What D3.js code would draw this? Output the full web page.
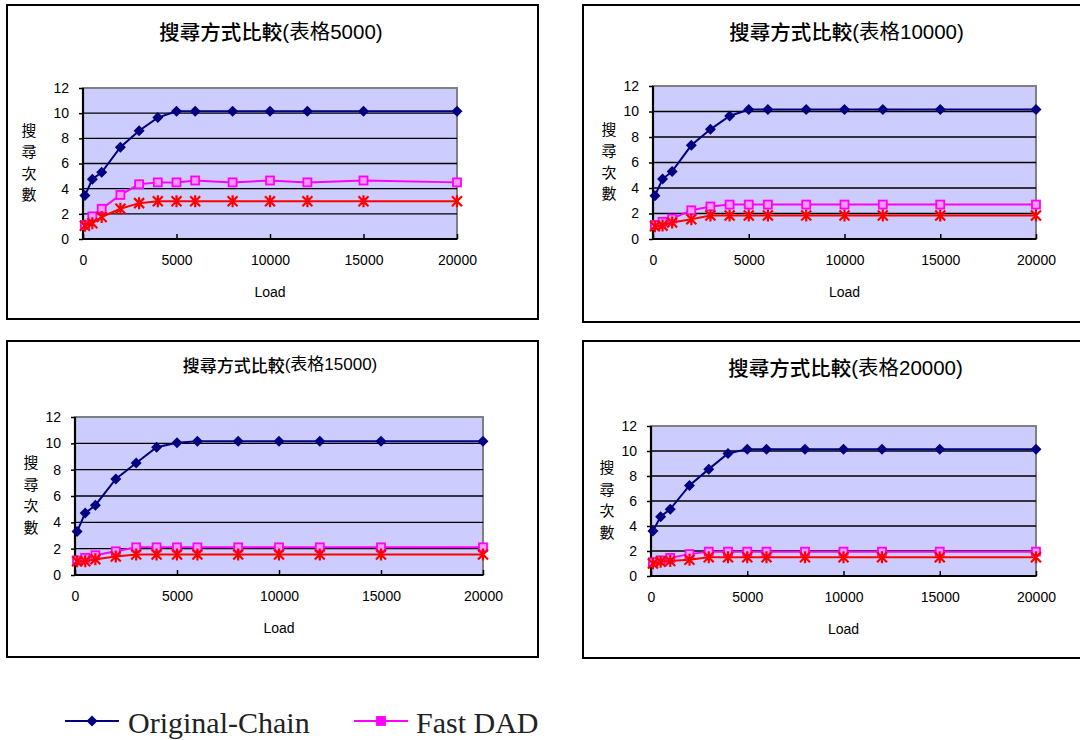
<!DOCTYPE html>
<html>
<head>
<meta charset="utf-8">
<script src="https://cdn.jsdelivr.net/npm/d3@7"></script>
<style>
  html, body { margin: 0; padding: 0; background: #ffffff; }
  svg { display: block; }
</style>
</head>
<body>
<svg id="chart" width="1080" height="740"></svg>
<script>
// ---------------- DATA ----------------
const loads = [100, 500, 1000, 2000, 3000, 4000, 5000, 6000, 8000, 10000, 12000, 15000, 20000];
const xTicks = [0, 5000, 10000, 15000, 20000];
const yTicks = [0, 2, 4, 6, 8, 10, 12];
const titlePrefix = "搜尋方式比較";
const titleSuffixes = ["(表格5000)", "(表格10000)", "(表格15000)", "(表格20000)"];
const yAxisChars = ["搜", "尋", "次", "數"];
const xAxisTitle = "Load";
const seriesNames = ["Original-Chain", "Fast DAD"];

const original5000  = [3.45, 4.75, 5.3, 7.3, 8.6, 9.65, 10.15, 10.15, 10.15, 10.15, 10.15, 10.15, 10.15];
const fastDad5000   = [1.1, 1.8, 2.4, 3.5, 4.35, 4.5, 4.5, 4.65, 4.5, 4.65, 4.5, 4.65, 4.5];
const third5000     = [1.05, 1.25, 1.75, 2.4, 2.85, 3.0, 3.0, 3.0, 3.0, 3.0, 3.0, 3.0, 3.0];

const original10000 = [3.4, 4.7, 5.3, 7.35, 8.6, 9.65, 10.15, 10.15, 10.15, 10.15, 10.15, 10.15, 10.15];
const fastDad10000  = [1.1, 1.35, 1.6, 2.25, 2.55, 2.7, 2.7, 2.7, 2.7, 2.7, 2.7, 2.7, 2.7];
const third10000    = [1.0, 1.05, 1.3, 1.55, 1.85, 1.85, 1.85, 1.85, 1.85, 1.85, 1.85, 1.85, 1.85];

const original15000 = [3.3, 4.7, 5.3, 7.3, 8.5, 9.7, 10.05, 10.15, 10.15, 10.15, 10.15, 10.15, 10.15];
const fastDad15000  = [1.1, 1.3, 1.5, 1.8, 2.1, 2.1, 2.1, 2.1, 2.1, 2.1, 2.1, 2.1, 2.1];
const third15000    = [1.05, 1.05, 1.2, 1.4, 1.55, 1.55, 1.55, 1.55, 1.55, 1.55, 1.55, 1.55, 1.55];

const original20000 = [3.6, 4.75, 5.35, 7.25, 8.55, 9.8, 10.15, 10.15, 10.15, 10.15, 10.15, 10.15, 10.15];
const fastDad20000  = [1.1, 1.25, 1.45, 1.75, 1.95, 1.95, 1.95, 1.95, 1.95, 1.95, 1.95, 1.95, 1.95];
const third20000    = [1.0, 1.15, 1.2, 1.3, 1.5, 1.5, 1.5, 1.5, 1.5, 1.5, 1.5, 1.5, 1.5];

const panelSeries = [
  [original5000, fastDad5000, third5000],
  [original10000, fastDad10000, third10000],
  [original15000, fastDad15000, third15000],
  [original20000, fastDad20000, third20000]
];

// ---------------- LAYOUT ----------------
const layout = [
  { frame: [7, 5, 531, 314],   plot: [83, 457, 88, 239],   titleY: 31,  titleSize: 20.5, labelX: 29 },
  { frame: [583, 5, 520, 317], plot: [653, 1036, 86, 239], titleY: 31,  titleSize: 20.5, labelX: 609 },
  { frame: [7, 341, 531, 316], plot: [75, 483, 417, 575],  titleY: 364, titleSize: 17, labelX: 31 },
  { frame: [583, 341, 520, 317], plot: [651, 1036, 426, 576], titleY: 367, titleSize: 20.5, labelX: 607 }
];

const colors = ["#000080", "#ff00ff", "#ff0000"];
const sansFont = "'Liberation Sans', Arial, 'Noto Sans CJK TC', sans-serif";

const svg = d3.select("#chart");

function drawMarker(g, type, x, y, legend) {
  if (type === 0) {
    g.append("path").attr("d", "M0,-5.5L5.5,0L0,5.5L-5.5,0Z")
      .attr("transform", `translate(${x},${y})`).attr("fill", colors[0]);
  } else if (type === 1) {
    g.append("rect").attr("x", x - 4).attr("y", y - 4).attr("width", 8).attr("height", 8)
      .attr("fill", legend ? colors[1] : "#ff99ff").attr("stroke", colors[1]).attr("stroke-width", 1.8);
  } else {
    const s = 5;
    g.append("path")
      .attr("d", `M${-s},${-s}L${s},${s}M${-s},${s}L${s},${-s}M0,${-s - 1}L0,${s + 1}`)
      .attr("transform", `translate(${x},${y})`)
      .attr("stroke", colors[2]).attr("stroke-width", 2.2).attr("fill", "none");
  }
}

layout.forEach((L, pi) => {
  const g = svg.append("g");
  const [fx, fy, fw, fh] = L.frame;
  const [pl, pr, pt, pb] = L.plot;

  g.append("rect").attr("x", fx).attr("y", fy).attr("width", fw).attr("height", fh)
    .attr("fill", "#ffffff").attr("stroke", "#000000").attr("stroke-width", 2);

  const x = d3.scaleLinear().domain([0, 20000]).range([pl, pr]);
  const y = d3.scaleLinear().domain([0, 12]).range([pb, pt]);

  g.append("rect").attr("x", pl).attr("y", pt).attr("width", pr - pl).attr("height", pb - pt)
    .attr("fill", "#ccccff").attr("stroke", "#808080").attr("stroke-width", 2);

  g.append("g").selectAll("line").data(yTicks.filter(v => v > 0 && v < 12)).join("line")
    .attr("x1", pl).attr("x2", pr).attr("y1", d => y(d)).attr("y2", d => y(d))
    .attr("stroke", "#000000").attr("stroke-width", 1.3);

  const yAxis = g.append("g").attr("transform", `translate(${pl},0)`)
    .call(d3.axisLeft(y).tickValues(yTicks).tickSize(4).tickPadding(10));
  const xAxis = g.append("g").attr("transform", `translate(0,${pb})`)
    .call(d3.axisBottom(x).tickValues(xTicks).tickFormat(d3.format("d")).tickSize(-5).tickPadding(16));
  [yAxis, xAxis].forEach(a => {
    a.select(".domain").attr("stroke", "#000000").attr("stroke-width", 2.2);
    a.selectAll(".tick line").attr("stroke", "#000000").attr("stroke-width", 1.5);
    a.selectAll(".tick text").attr("fill", "#000000").attr("font-size", 14).attr("font-family", sansFont);
  });
  xAxis.select(".domain").attr("d", `M${pl},0H${pr}`);
  yAxis.select(".domain").attr("d", `M0,${pb}V${pt}`);

  const t = g.append("text").attr("x", (pl + pr) / 2 + (pi % 2 === 0 ? 1 : 2)).attr("y", L.titleY)
    .attr("text-anchor", "middle").attr("dominant-baseline", "central")
    .attr("font-family", sansFont).attr("font-size", L.titleSize).attr("fill", "#000000");
  t.append("tspan").attr("font-family", "'Noto Sans CJK TC', sans-serif").attr("font-weight", 500).text(titlePrefix);
  t.append("tspan").text(titleSuffixes[pi]);

  const cy = (pt + pb) / 2 - 2;
  g.append("g").selectAll("text").data(yAxisChars).join("text")
    .attr("x", L.labelX).attr("y", (d, i) => cy + (i - 1.5) * 21.5)
    .attr("text-anchor", "middle").attr("dominant-baseline", "central")
    .attr("font-family", "'Noto Sans CJK TC', sans-serif").attr("font-size", 15).attr("fill", "#000000")
    .text(d => d);

  g.append("text").attr("x", (pl + pr) / 2).attr("y", pb + 53)
    .attr("text-anchor", "middle").attr("dominant-baseline", "central")
    .attr("font-family", sansFont).attr("font-size", 14).attr("fill", "#000000")
    .text(xAxisTitle);

  const line = d3.line().x((d, i) => x(loads[i])).y(d => y(d));
  panelSeries[pi].forEach((vals, si) => {
    g.append("path").datum(vals).attr("d", line)
      .attr("fill", "none").attr("stroke", colors[si]).attr("stroke-width", 2);
    const mg = g.append("g");
    vals.forEach((v, i) => drawMarker(mg, si, x(loads[i]), y(v), false));
  });
});

// ---------------- LEGEND ----------------
const legendItems = [
  { x1: 65, x2: 119, tx: 128 },
  { x1: 354, x2: 408, tx: 416 }
];
const legY = 721;
const lg = svg.append("g");
seriesNames.forEach((name, i) => {
  const it = legendItems[i];
  lg.append("line").attr("x1", it.x1).attr("x2", it.x2).attr("y1", legY).attr("y2", legY)
    .attr("stroke", colors[i]).attr("stroke-width", 2);
  drawMarker(lg, i, (it.x1 + it.x2) / 2, legY, true);
  lg.append("text").attr("x", it.tx).attr("y", legY + 1).attr("dominant-baseline", "central")
    .attr("font-family", "'Liberation Serif', 'DejaVu Serif', serif").attr("font-size", 30)
    .attr("fill", "#222222").text(name);
});
</script>
</body>
</html>
